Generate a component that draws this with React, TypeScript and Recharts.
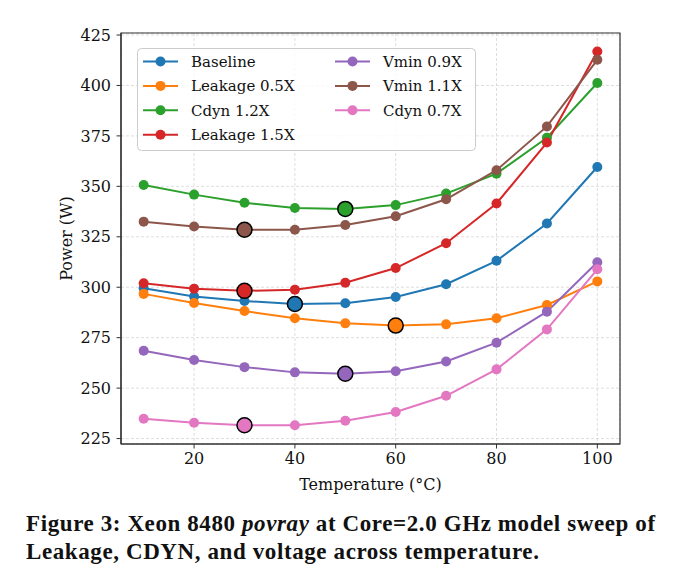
import React from "react";
import {
  ComposedChart,
  Line,
  Scatter,
  XAxis,
  YAxis,
  CartesianGrid,
  ReferenceArea,
} from "recharts";

const TEMPS = [10, 20, 30, 40, 50, 60, 70, 80, 90, 100];

const BASELINE = [299.5, 295.4, 293.2, 291.7, 292.1, 295.2, 301.5, 313.1, 331.6, 359.6];
const LEAKAGE_05 = [296.7, 292.2, 288.2, 284.6, 282.1, 281.0, 281.6, 284.6, 291.2, 302.9];
const CDYN_12 = [350.7, 345.9, 341.9, 339.3, 338.8, 340.7, 346.4, 356.3, 374.1, 401.2];
const LEAKAGE_15 = [302.0, 299.3, 298.2, 298.8, 302.2, 309.5, 321.8, 341.5, 371.7, 416.8];
const VMIN_09 = [268.5, 263.9, 260.4, 257.8, 257.1, 258.4, 263.2, 272.5, 287.9, 312.4];
const VMIN_11 = [332.5, 330.1, 328.5, 328.5, 330.8, 335.2, 343.6, 358.0, 379.7, 412.7];
const CDYN_07 = [234.8, 232.8, 231.6, 231.6, 233.8, 238.2, 246.2, 259.3, 279.1, 308.9];

const SERIES_NAMES = [
  "Baseline",
  "Leakage 0.5X",
  "Cdyn 1.2X",
  "Leakage 1.5X",
  "Vmin 0.9X",
  "Vmin 1.1X",
  "Cdyn 0.7X",
];
const SERIES_VALUES = [BASELINE, LEAKAGE_05, CDYN_12, LEAKAGE_15, VMIN_09, VMIN_11, CDYN_07];
// temperature of the highlighted (lowest power) point of each series
const OPTIMAL_TEMPS = [40, 60, 50, 30, 50, 30, 30];

const X_TICKS = [20, 40, 60, 80, 100];
const Y_TICKS = [225, 250, 275, 300, 325, 350, 375, 400, 425];
const X_DOMAIN = [5.5, 104.5];
const Y_DOMAIN = [222.3, 426];

const COLORS = ["#1f77b4", "#ff7f0e", "#2ca02c", "#d62728", "#9467bd", "#8c564b", "#e377c2"];

const FONT = "'DejaVu Serif', serif";
const AXIS_COLOR = "#333";

const rows = TEMPS.map((t, i) => {
  const row: Record<string, number> = { temp: t };
  SERIES_VALUES.forEach((vals, s) => {
    row[`s${s}`] = vals[i];
  });
  return row;
});

const optimalPoints = SERIES_VALUES.map((vals, s) => {
  const i = TEMPS.indexOf(OPTIMAL_TEMPS[s]);
  return [{ temp: TEMPS[i], value: vals[i] }];
});

function LegendBox() {
  const rowY = (r: number) => 13.5 + r * 24.4;
  return (
    <svg
      width={340}
      height={104}
      style={{ position: "absolute", left: 137, top: 48 }}
    >
      <rect
        x={0.5}
        y={0.5}
        width={338}
        height={102}
        rx={4}
        fill="rgba(255,255,255,0.8)"
        stroke="#cccccc"
      />
      {SERIES_NAMES.map((name, s) => {
        const col = s < 4 ? 0 : 1;
        const r = s < 4 ? s : s - 4;
        const x0 = col === 0 ? 6 : 198;
        const y = rowY(r);
        return (
          <g key={name}>
            <line x1={x0} x2={x0 + 35} y1={y} y2={y} stroke={COLORS[s]} strokeWidth={2} />
            <circle cx={x0 + 17.5} cy={y} r={5} fill={COLORS[s]} />
            <text
              x={x0 + 48}
              y={y + 5.5}
              fontFamily={FONT}
              fontSize={15}
              fill="#111"
            >
              {name}
            </text>
          </g>
        );
      })}
    </svg>
  );
}

const captionLine: React.CSSProperties = {
  whiteSpace: "nowrap",
  height: 28,
};

export default function App() {
  return (
    <div
      style={{
        position: "absolute",
        left: 0,
        top: 0,
        width: 680,
        height: 583,
        background: "#fff",
      }}
    >
      <ComposedChart
        width={680}
        height={500}
        data={rows}
        margin={{ top: 33, right: 60, left: 0, bottom: 0 }}
      >
        <CartesianGrid stroke="#d6d6d6" strokeDasharray="3 2" strokeWidth={0.8} />
        <ReferenceArea
          x1={X_DOMAIN[0]}
          x2={X_DOMAIN[1]}
          y1={Y_DOMAIN[0]}
          y2={Y_DOMAIN[1]}
          fill="none"
          fillOpacity={0}
          stroke={AXIS_COLOR}
          strokeWidth={1.2}
          ifOverflow="visible"
        />
        <XAxis
          dataKey="temp"
          type="number"
          domain={X_DOMAIN}
          ticks={X_TICKS}
          allowDataOverflow
          height={56}
          axisLine={{ stroke: AXIS_COLOR, strokeWidth: 1.2 }}
          tickLine={{ stroke: AXIS_COLOR }}
          tickSize={4.5}
          tickMargin={4}
          tick={{ fill: "#111", fontSize: 16, fontFamily: FONT }}
          label={{
            value: "Temperature (°C)",
            position: "insideBottom",
            offset: 10,
            style: { fill: "#111", fontSize: 16, fontFamily: FONT },
          }}
        />
        <YAxis
          type="number"
          domain={Y_DOMAIN}
          ticks={Y_TICKS}
          allowDataOverflow
          width={121}
          axisLine={{ stroke: AXIS_COLOR, strokeWidth: 1.2 }}
          tickLine={{ stroke: AXIS_COLOR }}
          tickSize={4.5}
          tickMargin={5.5}
          tick={{ fill: "#111", fontSize: 16, fontFamily: FONT }}
          label={{
            value: "Power (W)",
            angle: -90,
            position: "insideLeft",
            offset: 66,
            style: { fill: "#111", fontSize: 16, fontFamily: FONT, textAnchor: "middle" },
          }}
        />
        {SERIES_NAMES.map((name, s) => (
          <Line
            key={name}
            name={name}
            dataKey={`s${s}`}
            type="linear"
            stroke={COLORS[s]}
            strokeWidth={2}
            dot={{ r: 5, fill: COLORS[s], stroke: COLORS[s], strokeWidth: 0 }}
            activeDot={false}
            isAnimationActive={false}
          />
        ))}
        {SERIES_NAMES.map((name, s) => (
          <Scatter
            key={`opt-${name}`}
            data={optimalPoints[s]}
            dataKey="value"
            fill={COLORS[s]}
            isAnimationActive={false}
            shape={(p: any) => (
              <circle cx={p.cx} cy={p.cy} r={7.5} fill={COLORS[s]} stroke="#000" strokeWidth={1.5} />
            )}
          />
        ))}
      </ComposedChart>
      <LegendBox />
      <div
        style={{
          position: "absolute",
          left: 26,
          top: 510,
          fontFamily: "'Liberation Serif', serif",
          fontWeight: 700,
          fontSize: 23,
          lineHeight: "28px",
          letterSpacing: 0.6,
          color: "#111",
        }}
      >
        <div style={captionLine}>
          Figure 3: Xeon 8480 <i>povray</i> at Core=2.0 GHz model sweep of
        </div>
        <div style={captionLine}>Leakage, CDYN, and voltage across temperature.</div>
      </div>
    </div>
  );
}
